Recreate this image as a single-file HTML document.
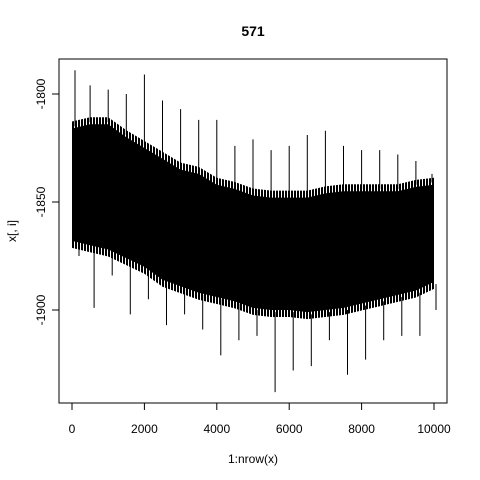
<!DOCTYPE html>
<html><head><meta charset="utf-8"><style>
body{margin:0;background:#fff}
svg{display:block;font-family:"Liberation Sans",Arial,sans-serif}
</style></head><body>
<svg id="chart" width="480" height="480" viewBox="0 0 480 480">
<defs>
<pattern id="stripes" width="3" height="10" patternUnits="userSpaceOnUse">
<rect x="0" y="0" width="2" height="10" fill="#000"/>
</pattern>
<clipPath id="plotclip"><rect x="59" y="59" width="388" height="344"/></clipPath>
</defs>
<rect width="480" height="480" fill="#fff"/>
<text x="253" y="36" font-size="14" font-weight="bold" text-anchor="middle">571</text>
<g id="series" clip-path="url(#plotclip)"></g>
<rect x="59" y="59" width="388" height="344" fill="none" stroke="#000"/>
<g id="xaxis"></g>
<g id="yaxis"></g>
<text x="253" y="463" font-size="12" text-anchor="middle">1:nrow(x)</text>
<text x="16" y="231" font-size="12" text-anchor="middle" transform="rotate(-90 16 231)">x[, i]</text>
</svg>
<script>
const binX = [0,500,1000,1500,2000,2500,3000,3500,4000,4500,5000,5500,6000,6500,7000,7500,8000,8500,9000,9500,10000];
const coreTop = [-1816,-1814,-1814,-1820,-1825,-1830,-1835,-1837,-1842,-1844,-1847,-1848,-1848,-1848,-1846,-1845,-1845,-1845,-1845,-1843,-1842];
const coreBottom = [-1868,-1870,-1872,-1876,-1880,-1886,-1889,-1892,-1894,-1896,-1899,-1900,-1900,-1901,-1900,-1899,-1897,-1895,-1893,-1891,-1887];
const spikeMax = [-1789,-1796,-1798,-1800,-1791,-1803,-1807,-1812,-1812,-1824,-1821,-1826,-1824,-1819,-1817,-1824,-1826,-1826,-1828,-1831,-1837];
const spikeMin = [-1875,-1899,-1884,-1902,-1895,-1907,-1902,-1909,-1921,-1914,-1912,-1938,-1928,-1926,-1914,-1930,-1923,-1914,-1912,-1912,-1900];
const xTicks = [0,2000,4000,6000,8000,10000];
const yTicks = [-1800,-1850,-1900];

const NS="http://www.w3.org/2000/svg";
const xs = v => 72 + v*(434-72)/10000;
const ys = v => 94 + (-1800 - v)*2.16;
const series=document.getElementById('series');
function band(offPx, fill, name){
  let pts=[];
  binX.forEach((x,i)=>pts.push(xs(x)+','+(ys(coreTop[i])-offPx)));
  for(let i=binX.length-1;i>=0;i--) pts.push(xs(binX[i])+','+(ys(coreBottom[i])+offPx));
  const poly=document.createElementNS(NS,'polygon');
  poly.setAttribute('points',pts.join(' '));
  poly.setAttribute('fill',fill);
  
  
  series.appendChild(poly);
}
band(7,'url(#stripes)','series-fringe-band');
band(0,'#000','series-core-band');
let d='';
binX.forEach((x,i)=>{
  const off = i===0?3:(i===binX.length-1?-2:0);
  const px = xs(x)+off;
  d+='M'+px+','+ys(spikeMax[i])+'V'+ys(coreTop[i]+1);
  d+='M'+(px+4)+','+ys(coreBottom[i]-1)+'V'+ys(spikeMin[i]);
});
const line=document.createElementNS(NS,'path');
line.setAttribute('d',d);
line.setAttribute('stroke','#000');
line.setAttribute('fill','none');
line.setAttribute('stroke-width','1');


series.appendChild(line);

const xa=document.getElementById('xaxis');
const xl=document.createElementNS(NS,'line');
xl.setAttribute('x1',xs(0));xl.setAttribute('x2',xs(10000));xl.setAttribute('y1',403);xl.setAttribute('y2',403);xl.setAttribute('stroke','#000');


xa.appendChild(xl);
xTicks.forEach(t=>{
  const tk=document.createElementNS(NS,'line');
  tk.setAttribute('x1',xs(t));tk.setAttribute('x2',xs(t));tk.setAttribute('y1',403);tk.setAttribute('y2',410);tk.setAttribute('stroke','#000');
  
  
  xa.appendChild(tk);
  const tx=document.createElementNS(NS,'text');
  tx.setAttribute('x',xs(t));tx.setAttribute('y',433);tx.setAttribute('font-size','12');tx.setAttribute('text-anchor','middle');
  tx.textContent=t;
  
  
  xa.appendChild(tx);
});
const ya=document.getElementById('yaxis');
const yl=document.createElementNS(NS,'line');
yl.setAttribute('x1',59);yl.setAttribute('x2',59);yl.setAttribute('y1',ys(-1800));yl.setAttribute('y2',ys(-1900));yl.setAttribute('stroke','#000');


ya.appendChild(yl);
yTicks.forEach(t=>{
  const tk=document.createElementNS(NS,'line');
  tk.setAttribute('x1',52);tk.setAttribute('x2',59);tk.setAttribute('y1',ys(t));tk.setAttribute('y2',ys(t));tk.setAttribute('stroke','#000');
  
  
  ya.appendChild(tk);
  const tx=document.createElementNS(NS,'text');
  const y=ys(t);
  tx.setAttribute('x',45);tx.setAttribute('y',y);tx.setAttribute('font-size','12');tx.setAttribute('text-anchor','middle');
  tx.setAttribute('transform','rotate(-90 45 '+y+')');
  tx.textContent=t;
  
  
  ya.appendChild(tx);
});
</script>
</body></html>
